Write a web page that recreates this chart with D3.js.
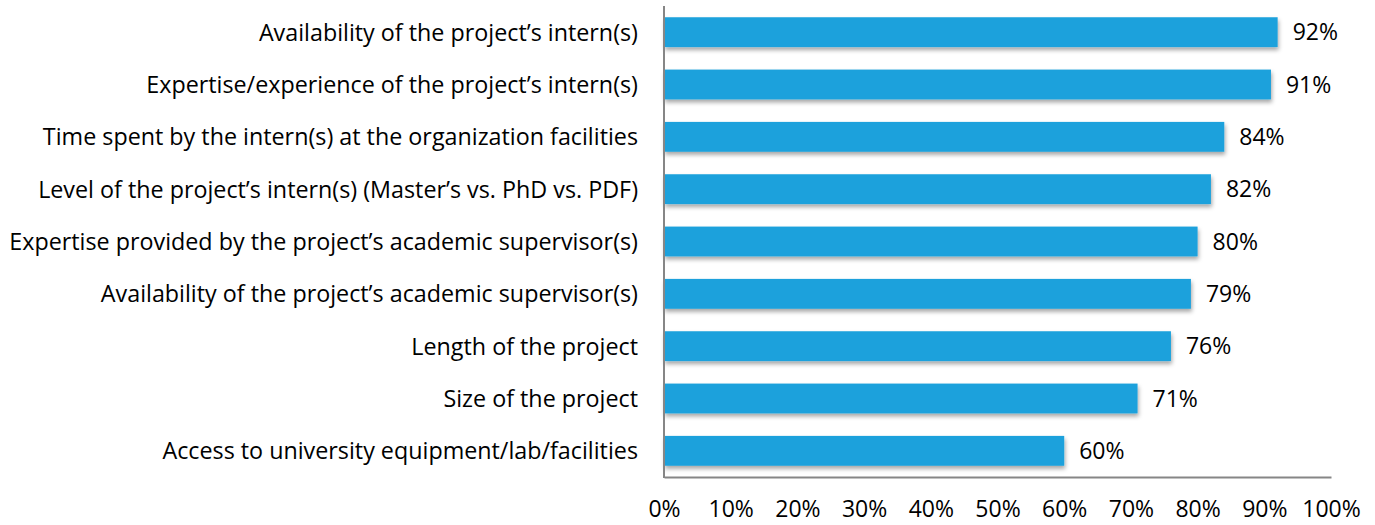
<!DOCTYPE html>
<html>
<head>
<meta charset="utf-8">
<script src="https://cdn.jsdelivr.net/npm/d3@7"></script>
<style>
  body { margin: 0; background: #fff; }
  text { font-family: "Open Sans", sans-serif; fill: #000; }
</style>
</head>
<body>
<svg></svg>
<script>
// categories top to bottom and their share of respondents
var categories = [
    "Availability of the project\u2019s intern(s)",
    "Expertise/experience of the project\u2019s intern(s)",
    "Time spent by the intern(s) at the organization facilities",
    "Level of the project\u2019s intern(s) (Master\u2019s vs. PhD vs. PDF)",
    "Expertise provided by the project\u2019s academic supervisor(s)",
    "Availability of the project\u2019s academic supervisor(s)",
    "Length of the project",
    "Size of the project",
    "Access to university equipment/lab/facilities"
];
var values = [0.92, 0.91, 0.84, 0.82, 0.80, 0.79, 0.76, 0.71, 0.60];
var tickValues = [0, 0.1, 0.2, 0.3, 0.4, 0.5, 0.6, 0.7, 0.8, 0.9, 1];

var width = 1375, height = 525;
var svg = d3.select('svg')
    .attr('width', width)
    .attr('height', height);

// drop shadow under the bars
var defs = svg.append('defs');
var filter = defs.append('filter').attr('id', 'shadow')
    .attr('x', '-5%').attr('y', '-30%').attr('width', '110%').attr('height', '170%');
filter.append('feDropShadow')
    .attr('dx', 1).attr('dy', 3)
    .attr('stdDeviation', 2)
    .attr('flood-color', '#000')
    .attr('flood-opacity', 0.35);

var x = d3.scaleLinear().domain([0, 1]).range([664, 1331]);
var y = d3.scaleBand().domain(categories).range([6, 477]).paddingInner(0.43).paddingOuter(0.215);

// bars
svg.selectAll('rect.bar')
    .data(values)
    .enter().append('rect')
    .attr('class', 'bar')
    .attr('x', x(0))
    .attr('y', (d, i) => y(categories[i]))
    .attr('width', d => x(d) - x(0))
    .attr('height', y.bandwidth())
    .attr('fill', '#1ba1dc')
    .attr('filter', 'url(#shadow)');

// value labels
svg.selectAll('text.val')
    .data(values)
    .enter().append('text')
    .attr('class', 'val')
    .attr('x', d => x(d) + 15)
    .attr('y', (d, i) => y(categories[i]) + y.bandwidth() / 2)
    .attr('dy', '0.36em')
    .style('font-size', '23px')
    .text(d3.format('.0%'));

// category labels
svg.selectAll('text.cat')
    .data(categories)
    .enter().append('text')
    .attr('class', 'cat')
    .attr('x', 638)
    .attr('y', d => y(d) + y.bandwidth() / 2)
    .attr('dy', '0.36em')
    .attr('text-anchor', 'end')
    .style('font-size', '23.3px')
    .text(d => d);

// x axis
var xAxis = svg.append('g')
    .attr('transform', 'translate(0,477)')
    .call(d3.axisBottom(x).tickValues(tickValues).tickFormat(d3.format('.0%')).tickSize(0).tickPadding(24));
xAxis.select('.domain').attr('stroke', '#868686').attr('stroke-width', 2);
xAxis.selectAll('text').style('font-size', '23px').style('font-family', '"Open Sans", sans-serif').attr('fill', '#000');

// y axis line
svg.append('line')
    .attr('x1', x(0)).attr('x2', x(0))
    .attr('y1', 6).attr('y2', 478)
    .attr('stroke', '#868686')
    .attr('stroke-width', 2);
</script>
</body>
</html>
